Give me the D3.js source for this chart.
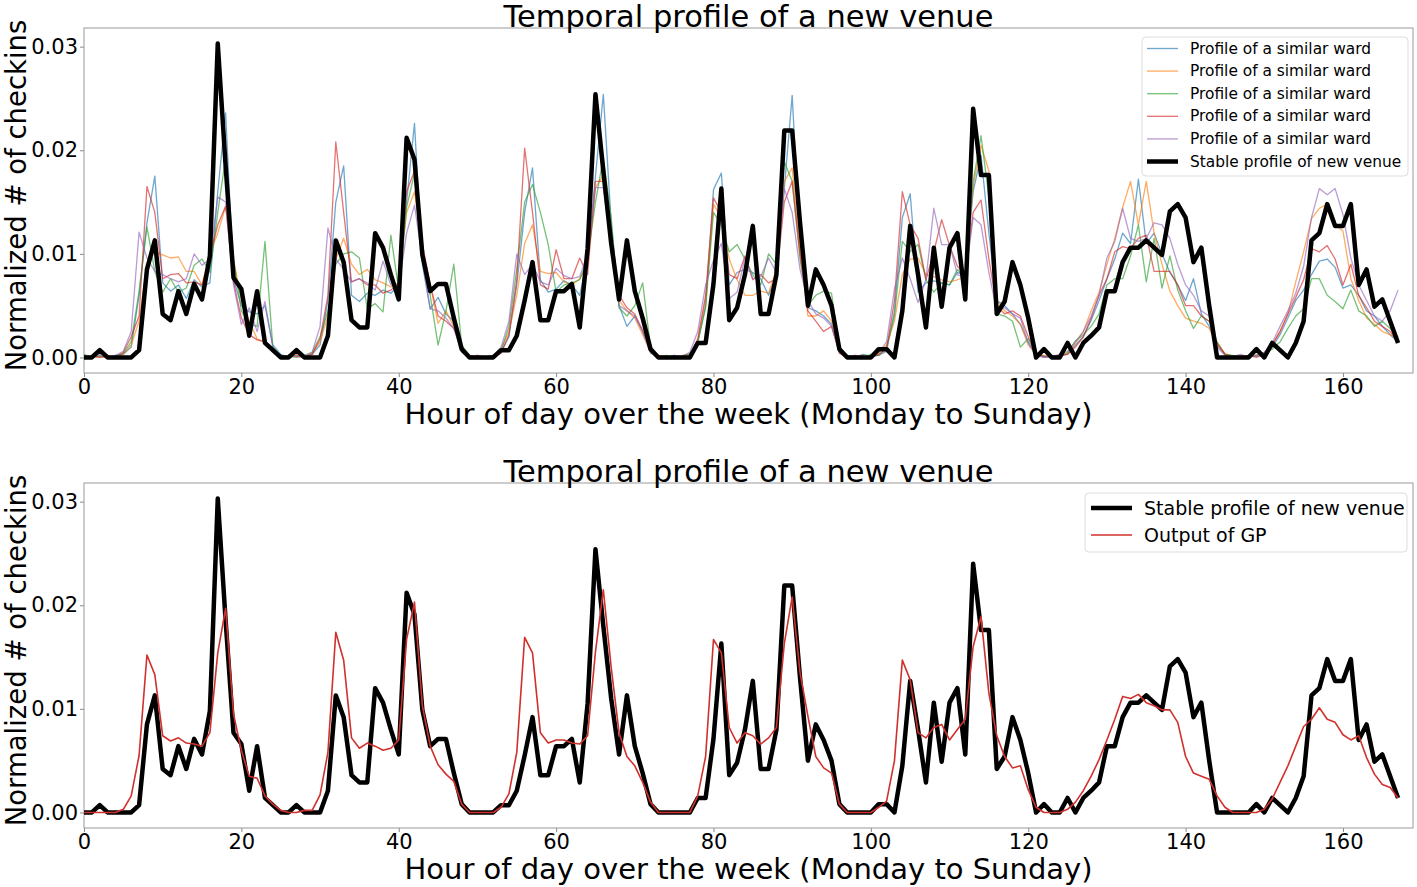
<!DOCTYPE html>
<html>
<head>
<meta charset="utf-8">
<script src="https://cdn.jsdelivr.net/npm/d3@7"></script>
<style>
body { margin: 0; background: #fff; }
text { font-family: "DejaVu Sans", sans-serif; fill: #000; }
</style>
</head>
<body>
<svg id="chart" width="1417" height="887"></svg>
<script>
// hour of the week, 0 = Monday 00:00
let hours = d3.range(168)

let stableProfile = [0,0,0.0007,0,0,0,0,0.0007,0.0085,0.0113,
    0.0042,0.0036,0.0064,0.0042,0.0071,0.0056,0.0098,0.0303,0.0185,0.0077,
    0.0066,0.0021,0.0064,0.0014,0.0007,0,0,0.0007,0,0,
    0,0.0021,0.0113,0.0092,0.0036,0.0029,0.0029,0.012,0.0106,0.008,
    0.0056,0.0212,0.0191,0.0099,0.0064,0.0071,0.0071,0.0038,0.0008,0,
    0,0,0,0.0007,0.0007,0.0021,0.0055,0.0092,0.0036,0.0036,
    0.0064,0.0064,0.0071,0.0029,0.0105,0.0254,0.018,0.011,0.0056,0.0113,
    0.0064,0.0038,0.0008,0,0,0,0,0,0.0014,0.0014,
    0.0071,0.0163,0.0036,0.0048,0.008,0.0127,0.0042,0.0042,0.008,0.0219,
    0.0219,0.013,0.005,0.0085,0.007,0.005,0.0008,0,0,0,
    0,0.0008,0.0008,0,0.0045,0.0127,0.008,0.0029,0.0106,0.0049,
    0.0106,0.012,0.0056,0.024,0.0176,0.0176,0.0042,0.0054,0.0092,0.007,
    0.0038,0,0.0008,0,0,0.0014,0,0.0014,0.0021,0.0029,
    0.0064,0.0064,0.0092,0.0106,0.0106,0.0113,0.0106,0.0099,0.0141,0.0148,
    0.0135,0.0092,0.0106,0.005,0,0,0,0,0,0.0008,
    0,0.0014,0.0007,0,0.0014,0.0035,0.0113,0.012,0.0148,0.0127,
    0.0127,0.0148,0.007,0.0085,0.0049,0.0056,0.0035,0.0014]

let gpOutput = [0,0,0,0,0,0.0003,0.0016,0.0055,0.0152,0.0133,
    0.0074,0.0069,0.0072,0.0067,0.0066,0.0064,0.0077,0.0154,0.0197,0.0095,
    0.006,0.0035,0.0033,0.0016,0.0008,0.0002,0,0,0.0002,0.0002,
    0.0017,0.0058,0.0174,0.0147,0.0072,0.0062,0.0067,0.0064,0.006,0.0062,
    0.007,0.0167,0.0203,0.0103,0.0064,0.0046,0.0037,0.003,0.0008,0,
    0,0,0,0.0005,0.0018,0.0058,0.0169,0.0154,0.0077,0.0067,
    0.007,0.007,0.0067,0.0066,0.0074,0.0155,0.0215,0.014,0.0077,0.0054,
    0.0045,0.0029,0.001,0,0,0,0,0,0.0016,0.0054,
    0.0167,0.0154,0.0082,0.0067,0.0077,0.0074,0.0066,0.0072,0.0082,0.0163,
    0.0208,0.0135,0.0093,0.0054,0.0043,0.0038,0.0008,0,0,0,
    0,0.0005,0.0011,0.005,0.0147,0.0128,0.0077,0.0072,0.0082,0.0085,
    0.007,0.008,0.009,0.016,0.0189,0.0115,0.0074,0.0054,0.0043,0.0045,
    0.0022,0.0005,0,0,0,0.0003,0.001,0.0021,0.0035,0.0051,
    0.007,0.009,0.0112,0.011,0.0114,0.0106,0.0103,0.0099,0.0099,0.0087,
    0.0054,0.0038,0.0035,0.0032,0.0016,0.0005,0,0,0,0,
    0.0003,0.0013,0.0029,0.0045,0.0064,0.0083,0.009,0.0101,0.009,0.0087,
    0.0075,0.007,0.0074,0.0053,0.0037,0.0027,0.0024,0.0014]

let wardBlue = [0.0002,0,0.0001,0,0.0002,0.0003,0.001,0.006,0.013,0.0175,
    0.0072,0.0064,0.007,0.0057,0.0075,0.0068,0.0072,0.016,0.0236,0.0076,
    0.005,0.0044,0.0042,0.005,0.0012,0.0003,0,0.0002,0.0001,0.0003,
    0.0012,0.0055,0.015,0.0185,0.006,0.0054,0.0062,0.006,0.0065,0.0062,
    0.007,0.015,0.0226,0.009,0.0047,0.0058,0.0042,0.0035,0.0006,0,
    0.0001,0,0.0002,0.0005,0.002,0.007,0.014,0.0183,0.0075,0.0063,
    0.0066,0.0074,0.007,0.006,0.0095,0.0175,0.0254,0.013,0.005,0.003,
    0.004,0.0025,0.0006,0.0001,0,0.0002,0,0.0001,0.0015,0.005,
    0.0162,0.0178,0.007,0.0082,0.0085,0.0082,0.0076,0.006,0.008,0.0163,
    0.0253,0.011,0.0048,0.0045,0.004,0.0032,0.0005,0.0002,0,0.0003,
    0.0001,0.0002,0.0006,0.0045,0.0135,0.0158,0.0063,0.0072,0.0074,0.0072,
    0.007,0.0082,0.008,0.016,0.0195,0.012,0.0055,0.005,0.0042,0.0032,
    0.0015,0.0003,0,0.0001,0.0002,0.0003,0.0012,0.002,0.0036,0.0055,
    0.0076,0.0095,0.012,0.011,0.0172,0.011,0.012,0.01,0.0082,0.007,
    0.0055,0.0076,0.0042,0.003,0.0012,0.0003,0.0001,0,0.0002,0.0001,
    0.0003,0.001,0.0022,0.0038,0.0055,0.0065,0.008,0.0093,0.0095,0.0087,
    0.0067,0.007,0.006,0.0045,0.004,0.003,0.0022,0.0015]

let wardOrange = [0,0.0001,0,0.0002,0,0.0003,0.0012,0.0035,0.009,0.0102,
    0.0099,0.0096,0.0097,0.0083,0.0083,0.007,0.01,0.012,0.0146,0.0095,
    0.0055,0.0035,0.0018,0.0015,0.0006,0.0002,0,0.0003,0,0.0004,
    0.0015,0.004,0.0095,0.0115,0.009,0.008,0.0085,0.0075,0.0072,0.0068,
    0.0072,0.014,0.016,0.0105,0.007,0.0033,0.0045,0.003,0.0007,0.0002,
    0,0.0001,0,0.0008,0.0025,0.006,0.011,0.0128,0.0083,0.0081,
    0.0082,0.0073,0.007,0.0076,0.009,0.0164,0.0176,0.012,0.0055,0.0045,
    0.0038,0.0022,0.0005,0.0002,0.0001,0,0.0002,0.0003,0.0016,0.0055,
    0.0148,0.0135,0.0095,0.0075,0.006,0.006,0.0064,0.0062,0.0085,0.017,
    0.0183,0.0105,0.004,0.004,0.0045,0.0035,0.0006,0.0001,0,0.0002,
    0,0.0004,0.0012,0.0035,0.008,0.0095,0.0096,0.008,0.0078,0.0075,
    0.0073,0.0075,0.0078,0.0165,0.0205,0.018,0.0055,0.0045,0.004,0.0032,
    0.0012,0.0003,0.0002,0,0.0001,0.0004,0.0014,0.0025,0.0045,0.0063,
    0.009,0.0115,0.0145,0.017,0.0128,0.017,0.012,0.009,0.0064,0.005,
    0.0038,0.0035,0.0033,0.0028,0.0012,0.0004,0.0001,0.0002,0,0.0003,
    0.0005,0.0012,0.0025,0.0042,0.0073,0.0102,0.0134,0.0144,0.0148,0.0128,
    0.0122,0.0076,0.0055,0.0038,0.0032,0.0025,0.0022,0.0018]

let wardGreen = [0.0003,0,0.0002,0,0.0001,0.0004,0.0015,0.0064,0.0126,0.0083,
    0.0063,0.0076,0.0063,0.0067,0.0089,0.0095,0.0082,0.014,0.0193,0.0095,
    0.0045,0.0032,0.003,0.0112,0.001,0.0002,0.0001,0,0.0002,0.0005,
    0.002,0.0045,0.009,0.01,0.0102,0.0096,0.0047,0.0052,0.0044,0.0118,
    0.0065,0.0145,0.0178,0.01,0.006,0.0012,0.0045,0.009,0.0012,0.0002,
    0,0.0001,0.0002,0.0006,0.003,0.0085,0.015,0.0167,0.014,0.0109,
    0.0063,0.007,0.0072,0.0075,0.0095,0.015,0.0193,0.0135,0.0048,0.004,
    0.005,0.0072,0.001,0,0.0002,0,0.0001,0.0004,0.0014,0.0048,
    0.014,0.0128,0.0102,0.0109,0.0095,0.008,0.007,0.01,0.009,0.0189,
    0.017,0.0095,0.005,0.006,0.0064,0.0062,0.0008,0.0002,0.0001,0,
    0.0003,0.0002,0.001,0.004,0.0112,0.0102,0.0109,0.0075,0.0063,0.0072,
    0.007,0.0085,0.0075,0.017,0.0214,0.0155,0.0042,0.004,0.0035,0.001,
    0.0018,0.0004,0.0001,0.0002,0,0.0005,0.0016,0.0022,0.003,0.0042,
    0.007,0.0076,0.0076,0.0098,0.0128,0.0073,0.0115,0.0067,0.0098,0.0065,
    0.0045,0.0028,0.004,0.0035,0.0015,0.0003,0.0002,0,0.0001,0.0002,
    0.0004,0.0008,0.0015,0.0028,0.004,0.0047,0.0076,0.0076,0.006,0.0054,
    0.0047,0.0065,0.0045,0.004,0.003,0.0035,0.0028,0.002]

let wardRed = [0,0.0002,0,0.0001,0,0.0005,0.002,0.004,0.0165,0.014,
    0.0076,0.008,0.0081,0.0072,0.0073,0.007,0.0098,0.0128,0.0146,0.0073,
    0.0038,0.0022,0.0017,0.0015,0.0005,0,0.0002,0.0001,0,0.0003,
    0.0018,0.006,0.0208,0.014,0.0073,0.0076,0.007,0.007,0.0062,0.0065,
    0.0072,0.016,0.018,0.011,0.007,0.004,0.0035,0.0028,0.0008,0.0001,
    0.0002,0,0.0001,0.0004,0.0022,0.0075,0.0202,0.014,0.007,0.0066,
    0.0104,0.0076,0.0076,0.0096,0.008,0.017,0.017,0.012,0.006,0.0048,
    0.0042,0.0026,0.0008,0.0002,0,0.0001,0,0.0002,0.0018,0.006,
    0.0154,0.014,0.008,0.0076,0.0098,0.0075,0.008,0.0072,0.0076,0.015,
    0.017,0.01,0.0045,0.0035,0.0025,0.003,0.0004,0,0.0002,0.0001,
    0,0.0003,0.0008,0.0055,0.016,0.0128,0.0115,0.0075,0.0102,0.0133,
    0.0108,0.0088,0.008,0.014,0.0152,0.0095,0.005,0.0042,0.0045,0.004,
    0.002,0.0004,0.0001,0,0.0002,0.0003,0.001,0.002,0.0038,0.006,
    0.0076,0.0102,0.0107,0.0105,0.0115,0.0118,0.0083,0.0083,0.0083,0.007,
    0.005,0.005,0.004,0.0035,0.0014,0.0003,0,0.0001,0.0002,0,
    0.0003,0.0012,0.0025,0.0042,0.0058,0.0075,0.0105,0.0102,0.0108,0.0095,
    0.007,0.009,0.006,0.0048,0.0035,0.003,0.0025,0.0015]

let wardPurple = [0.0001,0,0.0003,0,0.0002,0.0006,0.0025,0.0121,0.0096,0.0083,
    0.008,0.0076,0.0073,0.0076,0.01,0.0089,0.0095,0.0155,0.015,0.007,
    0.0032,0.0048,0.0025,0.0054,0.0009,0.0002,0,0.0002,0.0001,0.0005,
    0.003,0.0125,0.0095,0.0085,0.0073,0.0076,0.0072,0.0065,0.0093,0.007,
    0.0068,0.012,0.0147,0.0095,0.0047,0.0045,0.0038,0.0028,0.0005,0,
    0.0002,0.0001,0,0.001,0.0035,0.01,0.008,0.009,0.0073,0.007,
    0.0086,0.0079,0.0076,0.0078,0.01,0.0164,0.0164,0.011,0.005,0.0045,
    0.004,0.0025,0.0004,0.0001,0,0.0002,0.0001,0.0005,0.0025,0.007,
    0.0094,0.011,0.0057,0.0063,0.0096,0.0076,0.0078,0.0096,0.0082,0.0163,
    0.014,0.0085,0.0055,0.0042,0.0038,0.003,0.0006,0.0001,0.0002,0,
    0.0001,0.0005,0.0015,0.0066,0.0096,0.0076,0.0053,0.0075,0.0144,0.0109,
    0.0109,0.008,0.0077,0.0135,0.0128,0.0082,0.0045,0.0048,0.0042,0.0038,
    0.0014,0.0002,0,0.0001,0.0003,0.0006,0.0015,0.0025,0.004,0.006,
    0.0096,0.0112,0.0144,0.0115,0.0112,0.0115,0.013,0.0128,0.0115,0.009,
    0.007,0.006,0.0045,0.004,0.001,0.0002,0.0001,0.0003,0,0.0002,
    0.0005,0.0014,0.003,0.0045,0.0062,0.0088,0.0135,0.0163,0.0157,0.0163,
    0.0138,0.0096,0.007,0.0055,0.004,0.0035,0.0045,0.0065]

let xTicks = [0, 20, 40, 60, 80, 100, 120, 140, 160]
let yTicks = [0, 0.01, 0.02, 0.03]

let titleText = "Temporal profile of a new venue"
let xLabelText = "Hour of day over the week (Monday to Sunday)"
let yLabelText = "Normalized # of checkins"
let wardLabel = "Profile of a similar ward"
let stableLabel = "Stable profile of new venue"
let gpLabel = "Output of GP"

let wardSeries = [wardBlue, wardOrange, wardGreen, wardRed, wardPurple]
let wardColors = ["#1f77b4", "#ff7f0e", "#2ca02c", "#d62728", "#9467bd"]

let svg = d3.select("#chart")
let left = 84, right = 1413

function drawPanel(top, bottom) {
    let x = d3.scaleLinear().domain([0, 168.9]).range([left, right])
    let y = d3.scaleLinear().domain([-0.0015, 0.0318]).range([bottom, top])
    let g = svg.append("g")

    let line = d3.line()
        .x(function (d, i) { return x(hours[i]) })
        .y(function (d) { return y(d) })

    g.append("g")
        .attr("transform", "translate(0," + bottom + ")")
        .call(d3.axisBottom(x).tickValues(xTicks).tickSize(4).tickPadding(2))
        .call(function (a) { a.select(".domain").remove() })
        .call(function (a) {
            a.selectAll("line").attr("stroke", "#888")
            a.selectAll("text").attr("font-size", 21)
        })

    g.append("g")
        .attr("transform", "translate(" + left + ",0)")
        .call(d3.axisLeft(y).tickValues(yTicks).tickFormat(d3.format(".2f")).tickSize(4).tickPadding(2))
        .call(function (a) { a.select(".domain").remove() })
        .call(function (a) {
            a.selectAll("line").attr("stroke", "#888")
            a.selectAll("text").attr("font-size", 21)
        })

    g.append("rect")
        .attr("x", left).attr("y", top)
        .attr("width", right - left).attr("height", bottom - top)
        .attr("fill", "none").attr("stroke", "#999").attr("stroke-width", 1)

    g.append("text")
        .attr("x", (left + right) / 2).attr("y", top - 1)
        .attr("text-anchor", "middle")
        .attr("font-size", 30.5)
        .text(titleText)

    g.append("text")
        .attr("x", (left + right) / 2).attr("y", bottom + 51)
        .attr("text-anchor", "middle")
        .attr("font-size", 29)
        .text(xLabelText)

    g.append("text")
        .attr("transform", "translate(26," + ((top + bottom) / 2 - 5) + ") rotate(-90)")
        .attr("text-anchor", "middle")
        .attr("font-size", 27.5)
        .text(yLabelText)

    return { g: g, x: x, y: y, line: line }
}

// top panel: similar wards + stable profile
let p1 = drawPanel(28, 373)
p1.g.selectAll(".ward")
    .data(wardSeries)
    .enter()
    .append("path")
    .attr("class", "ward")
    .attr("d", function (d) { return p1.line(d) })
    .attr("fill", "none")
    .attr("stroke", function (d, i) { return wardColors[i] })
    .attr("stroke-opacity", 0.65)
    .attr("stroke-width", 1.3)
    .attr("stroke-linejoin", "round")

p1.g.append("path")
    .attr("d", p1.line(stableProfile))
    .attr("fill", "none")
    .attr("stroke", "#000")
    .attr("stroke-width", 4.5)
    .attr("stroke-linejoin", "round")

// legend, top
let leg1 = p1.g.append("g")
leg1.append("rect")
    .attr("x", 1142).attr("y", 37).attr("width", 266).attr("height", 139)
    .attr("rx", 4).attr("fill", "#fff").attr("fill-opacity", 0.8)
    .attr("stroke", "#ddd")
let legItems1 = wardColors.map(function (c) { return { label: wardLabel, color: c, w: 1.3, op: 0.65 } })
legItems1.push({ label: stableLabel, color: "#000", w: 4.5, op: 1 })
legItems1.forEach(function (d, i) {
    let yy = 48.5 + i * 22.6
    leg1.append("line")
        .attr("x1", 1147).attr("x2", 1178).attr("y1", yy).attr("y2", yy)
        .attr("stroke", d.color).attr("stroke-width", d.w).attr("stroke-opacity", d.op)
    leg1.append("text")
        .attr("x", 1190).attr("y", yy)
        .attr("dominant-baseline", "central")
        .attr("font-size", 15.4)
        .text(d.label)
})

// bottom panel: stable profile vs GP
let p2 = drawPanel(483, 828)
p2.g.append("path")
    .attr("d", p2.line(stableProfile))
    .attr("fill", "none")
    .attr("stroke", "#000")
    .attr("stroke-width", 4.5)
    .attr("stroke-linejoin", "round")
p2.g.append("path")
    .attr("d", p2.line(gpOutput))
    .attr("fill", "none")
    .attr("stroke", "#d0312d")
    .attr("stroke-width", 1.6)
    .attr("stroke-linejoin", "round")

let leg2 = p2.g.append("g")
leg2.append("rect")
    .attr("x", 1085).attr("y", 493).attr("width", 322).attr("height", 59)
    .attr("rx", 4).attr("fill", "#fff").attr("fill-opacity", 0.8)
    .attr("stroke", "#ddd")
let legItems2 = [
    { label: stableLabel, color: "#000", w: 4.5 },
    { label: gpLabel, color: "#d0312d", w: 1.6 }
]
legItems2.forEach(function (d, i) {
    let yy = 508 + i * 27
    leg2.append("line")
        .attr("x1", 1091).attr("x2", 1132).attr("y1", yy).attr("y2", yy)
        .attr("stroke", d.color).attr("stroke-width", d.w)
    leg2.append("text")
        .attr("x", 1144).attr("y", yy)
        .attr("dominant-baseline", "central")
        .attr("font-size", 19)
        .text(d.label)
})
</script>
</body>
</html>
